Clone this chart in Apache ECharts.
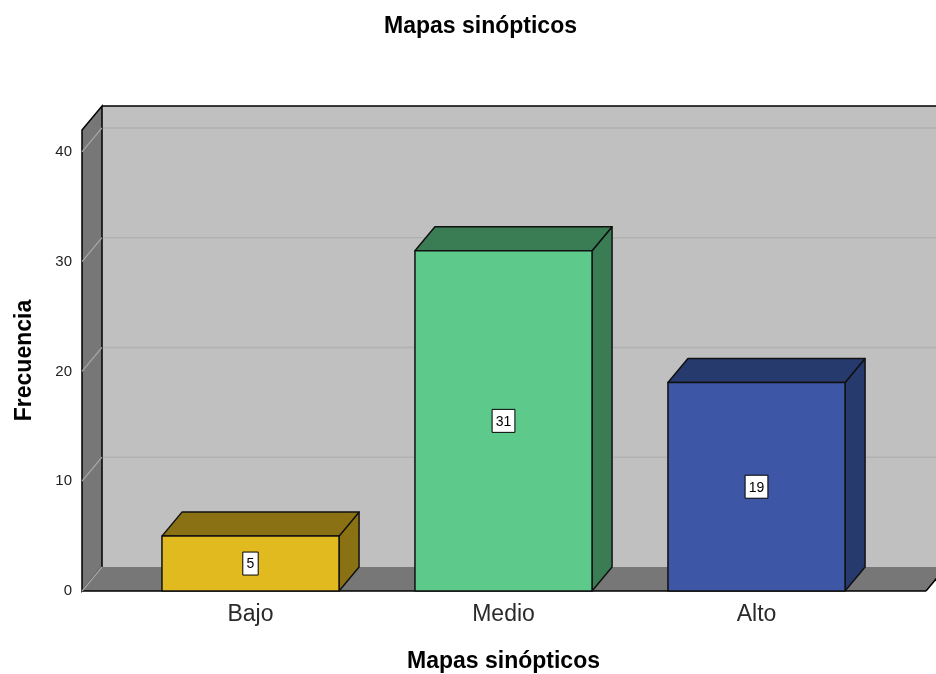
<!DOCTYPE html>
<html>
<head>
<meta charset="utf-8">
<script src="https://cdn.jsdelivr.net/npm/echarts@6/dist/echarts.min.js"></script>
<style>html,body{margin:0;padding:0;background:#fff}#c{width:936px;height:674px}</style>
</head>
<body>
<div id="c"></div>
<script>
const categories = ['Bajo', 'Medio', 'Alto'];
const values = [5, 31, 19];
const frontColors = ['#e0ba1f', '#5dc98b', '#3d56a6'];
const sideColors = ['#8a7214', '#3a7d55', '#263a6e'];
const yTicks = [0, 10, 20, 30, 40];
const titleText = 'Mapas sinópticos';
const xName = 'Mapas sinópticos';
const yName = 'Frecuencia';

const FONT = '"Liberation Sans", Arial, sans-serif';
const DX = 20, DY = -24, EXT = 42;

const chart = echarts.init(document.getElementById('c'), null, {renderer: 'canvas'});

function bgRender(params, api) {
  const cs = params.coordSys;
  const y0 = api.coord([0, 0])[1];
  const yTop = cs.y;
  const xl = cs.x - EXT, xr = cs.x + cs.width + EXT + 1;
  const ch = [];
  // back wall
  ch.push({type: 'polygon', shape: {points: [[xl + DX, yTop + DY], [xr + DX + 20, yTop + DY], [xr + DX + 20, y0 + DY], [xl + DX, y0 + DY]]},
    style: {fill: '#c0c0c0', stroke: null}});
  ch.push({type: 'line', shape: {x1: xl + DX, y1: yTop + DY, x2: xr + DX + 20, y2: yTop + DY}, style: {stroke: '#000', lineWidth: 1.5}});
  // gridlines on back wall
  yTicks.forEach(v => {
    if (v === 0) return;
    const y = api.coord([0, v])[1];
    ch.push({type: 'line', shape: {x1: xl + DX, y1: y + DY, x2: xr + DX + 20, y2: y + DY}, style: {stroke: '#b1b1b1', lineWidth: 1.5}});
  });
  // left wall
  ch.push({type: 'polygon', shape: {points: [[xl, yTop], [xl + DX, yTop + DY], [xl + DX, y0 + DY], [xl, y0]]},
    style: {fill: '#777777', stroke: '#000', lineWidth: 1.5}});
  yTicks.forEach(v => {
    if (v === 0) return;
    const y = api.coord([0, v])[1];
    ch.push({type: 'line', shape: {x1: xl, y1: y, x2: xl + DX, y2: y + DY}, style: {stroke: '#a9a9a9', lineWidth: 1.2}});
  });
  // floor
  ch.push({type: 'polygon', shape: {points: [[xl, y0], [xr, y0], [xr + DX, y0 + DY], [xl + DX, y0 + DY]]},
    style: {fill: '#777777', stroke: null}});
  ch.push({type: 'line', shape: {x1: xl, y1: y0, x2: xr, y2: y0}, style: {stroke: '#000', lineWidth: 1.5}});
  ch.push({type: 'line', shape: {x1: xr, y1: y0, x2: xr + DX, y2: y0 + DY}, style: {stroke: '#000', lineWidth: 1.5}});
  ch.push({type: 'line', shape: {x1: xl, y1: y0, x2: xl + DX, y2: y0 + DY}, style: {stroke: '#a9a9a9', lineWidth: 1.2}});
  return {type: 'group', children: ch};
}

function barRender(params, api) {
  const i = api.value(0), v = api.value(1);
  const top = api.coord([i, v]);
  const bot = api.coord([i, 0]);
  const w = api.size([1, 0])[0] * 0.70;
  const x0 = top[0] - w / 2, x1 = top[0] + w / 2;
  const yt = top[1], yb = bot[1];
  const fc = frontColors[params.dataIndex], sc = sideColors[params.dataIndex];
  const st = {stroke: '#111', lineWidth: 1.5, lineJoin: 'round'};
  const txt = String(v);
  const bw = 8 + 7.4 * txt.length, bh = 23;
  const cy = (yt + yb) / 2;
  return {type: 'group', children: [
    {type: 'polygon', shape: {points: [[x1, yt], [x1 + DX, yt + DY], [x1 + DX, yb + DY], [x1, yb]]}, style: Object.assign({fill: sc}, st)},
    {type: 'polygon', shape: {points: [[x0, yt], [x0 + DX, yt + DY], [x1 + DX, yt + DY], [x1, yt]]}, style: Object.assign({fill: sc}, st)},
    {type: 'rect', shape: {x: x0, y: yt, width: w, height: yb - yt}, style: Object.assign({fill: fc}, st)},
    {type: 'rect', shape: {x: top[0] - bw / 2, y: cy - bh / 2, width: bw, height: bh}, style: {fill: '#fff', stroke: '#000', lineWidth: 1}},
    {type: 'text', style: {text: txt, x: top[0], y: cy + 1, align: 'center', verticalAlign: 'middle', fontSize: 14, fontFamily: FONT, fill: '#000'}}
  ]};
}

chart.setOption({
  animation: false,
  backgroundColor: '#ffffff',
  title: {text: titleText, left: 379, top: 10, textStyle: {fontSize: 23, fontWeight: 'bold', fontFamily: FONT, color: '#000'}},
  grid: {left: 124, right: 53, top: 130, bottom: 83, containLabel: false, outerBoundsMode: 'none'},
  xAxis: {
    type: 'category', data: categories,
    name: xName, nameLocation: 'middle', nameGap: 59,
    nameTextStyle: {fontSize: 23, fontWeight: 'bold', fontFamily: FONT, color: '#000'},
    axisLine: {show: false}, axisTick: {show: false},
    axisLabel: {fontSize: 23, fontFamily: FONT, color: '#2a2a2a', margin: 12},
    splitLine: {show: false}
  },
  yAxis: {
    type: 'value', min: 0, max: 42, interval: 10,
    name: yName, nameLocation: 'middle', nameGap: 88,
    nameTextStyle: {fontSize: 23, fontWeight: 'bold', fontFamily: FONT, color: '#000'},
    axisLine: {show: false}, axisTick: {show: false},
    axisLabel: {fontSize: 15, fontFamily: FONT, color: '#222', margin: 52,
      formatter: v => (yTicks.indexOf(v) >= 0 ? String(v) : '')},
    splitLine: {show: false}
  },
  series: [
    {type: 'custom', renderItem: bgRender, data: [[0, 0]], z: 1, silent: true, clip: false},
    {type: 'custom', renderItem: barRender, data: categories.map((c, i) => [i, values[i]]), z: 2, clip: false}
  ]
});
</script>
</body>
</html>
